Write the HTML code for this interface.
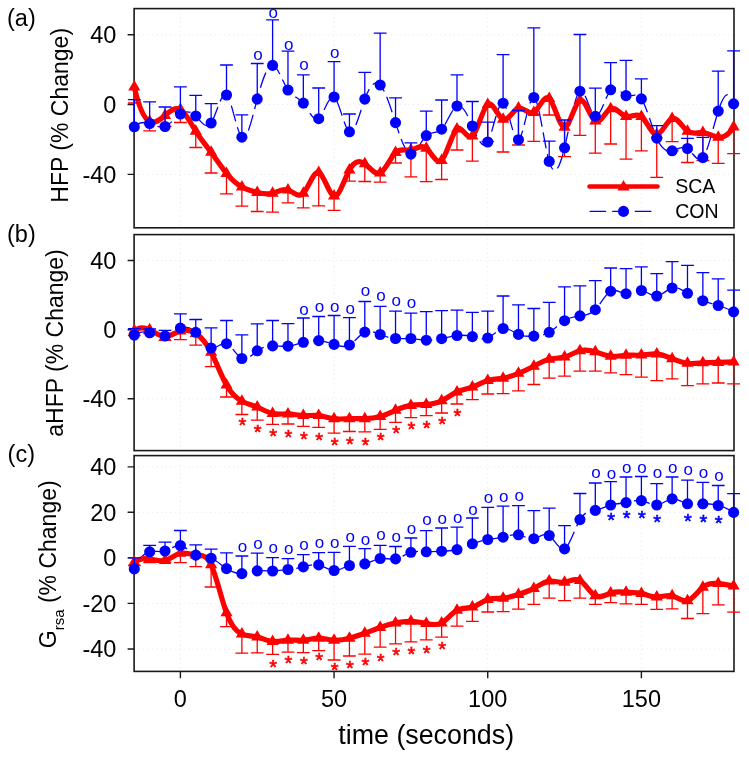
<!DOCTYPE html>
<html><head><meta charset="utf-8"><style>
html,body{margin:0;padding:0;background:#fff;}
svg{display:block;will-change:transform;}
text{font-family:"Liberation Sans",sans-serif;fill:#000;}
.tl{font-size:23.5px;}
.xl{font-size:26.8px;}
.yl{font-size:23px;}
.sub{font-size:15px;}
.pl{font-size:23.5px;}
.lg{font-size:19.5px;}
.o{font-size:17px;fill:#0000ff;text-anchor:middle;}
.st{font-size:20px;text-anchor:middle;}
.sr{fill:#ff0000;stroke:#ff0000;stroke-width:0.6px;}
.sb{fill:#0000ff;stroke:#0000ff;stroke-width:0.6px;}
</style></head><body>
<svg width="749" height="758" viewBox="0 0 749 758">
<rect width="749" height="758" fill="#fff"/>
<path d="M180.40 8.60V227.80M334.07 8.60V227.80M487.73 8.60V227.80M641.39 8.60V227.80M134.10 34.80H734.00M134.10 104.50H734.00M134.10 174.40H734.00" stroke="#e6e6e6" stroke-width="1" stroke-dasharray="1 3.5" fill="none"/>
<rect x="134.10" y="8.60" width="599.90" height="219.20" fill="none" stroke="#1a1a1a" stroke-width="1.6"/>
<path d="M127.60 34.80H134.10M127.60 104.50H134.10M127.60 174.40H134.10" stroke="#1a1a1a" stroke-width="1.4"/>
<g>
<path d="M134.30 126.80C139.42 121.70 144.54 121.81 149.67 123.50C154.79 125.19 159.91 128.45 165.03 126.50C170.16 124.55 175.28 117.38 180.40 114.00C185.52 110.62 190.64 111.01 195.77 116.00C200.89 120.99 206.01 130.56 211.13 123.00C216.26 115.44 221.38 90.76 226.50 95.00C231.62 99.24 236.74 132.41 241.87 137.20C246.99 141.99 252.11 118.40 257.23 99.10C262.35 79.80 267.48 64.78 272.60 65.40C277.72 66.02 282.84 82.29 287.97 90.00C293.09 97.71 298.21 96.86 303.33 103.10C308.45 109.34 313.58 122.66 318.70 118.70C323.82 114.74 328.94 93.51 334.07 97.00C339.19 100.49 344.31 128.69 349.43 131.80C354.55 134.91 359.68 112.92 364.80 99.10C369.92 85.28 375.04 79.62 380.16 85.00C385.29 90.38 390.41 106.81 395.53 122.60C400.65 138.39 405.78 153.56 410.90 154.10C416.02 154.64 421.14 140.57 426.26 135.60C431.39 130.63 436.51 134.76 441.63 129.20C446.75 123.64 451.87 108.39 457.00 106.00C462.12 103.61 467.24 114.09 472.36 126.00C477.49 137.91 482.61 151.27 487.73 142.00C492.85 132.73 497.97 100.85 503.10 103.20C508.22 105.55 513.34 142.13 518.46 139.70C523.59 137.27 528.71 95.83 533.83 97.50C538.95 99.17 544.07 143.96 549.20 161.40C554.32 178.84 559.44 168.93 564.56 147.80C569.68 126.67 574.81 94.31 579.93 91.20C585.05 88.09 590.17 114.24 595.30 116.20C600.42 118.16 605.54 95.94 610.66 89.80C615.78 83.66 620.91 93.61 626.03 95.60C631.15 97.59 636.27 91.61 641.39 98.90C646.52 106.19 651.64 126.75 656.76 138.20C661.88 149.65 667.01 151.98 672.13 150.80C677.25 149.62 682.37 144.95 687.49 148.50C692.62 152.05 697.74 163.84 702.86 157.60C707.98 151.36 713.11 127.09 718.23 111.10C723.35 95.11 728.47 87.41 733.59 103.80" stroke="#0000ff" stroke-width="1.3" fill="none" stroke-dasharray="16.16 5.9" stroke-dashoffset="19.16"/>
<path d="M134.30 87.00V103.00M127.90 103.00H140.70M149.67 121.50V130.90M143.27 130.90H156.07M165.03 115.50V126.50M158.63 126.50H171.43M180.40 109.50V122.50M174.00 122.50H186.80M195.77 131.20V147.50M189.37 147.50H202.17M211.13 152.30V173.00M204.73 173.00H217.53M226.50 173.40V193.90M220.10 193.90H232.90M241.87 187.10V206.10M235.47 206.10H248.27M257.23 192.50V211.50M250.83 211.50H263.63M272.60 193.30V212.10M266.20 212.10H279.00M287.97 189.90V202.90M281.57 202.90H294.37M303.33 193.30V207.80M296.93 207.80H309.73M318.70 172.50V205.80M312.30 205.80H325.10M334.07 196.00V210.40M327.67 210.40H340.47M349.43 169.90V181.20M343.03 181.20H355.83M364.80 163.80V181.50M358.40 181.50H371.20M380.16 173.00V182.10M373.76 182.10H386.56M395.53 152.60V163.00M389.13 163.00H401.93M410.90 150.00V176.90M404.50 176.90H417.30M426.26 148.20V181.70M419.86 181.70H432.66M441.63 160.40V179.50M435.23 179.50H448.03M457.00 129.10V150.00M450.60 150.00H463.40M472.36 136.10V161.20M465.96 161.20H478.76M487.73 104.50V141.50M481.33 141.50H494.13M503.10 119.30V152.00M496.70 152.00H509.50M518.46 108.10V145.00M512.06 145.00H524.86M533.83 112.40V141.40M527.43 141.40H540.23M549.20 98.50V115.00M542.80 115.00H555.60M564.56 127.20V156.70M558.16 156.70H570.96M579.93 100.30V135.30M573.53 135.30H586.33M595.30 121.10V153.20M588.90 153.20H601.70M610.66 108.70V144.00M604.26 144.00H617.06M626.03 116.50V159.10M619.63 159.10H632.43M641.39 116.50V150.90M635.00 150.90H647.79M656.76 134.50V177.40M650.36 177.40H663.16M672.13 118.50V141.60M665.73 141.60H678.53M687.49 131.20V162.50M681.09 162.50H693.89M702.86 132.50V160.50M696.46 160.50H709.26M718.23 137.30V163.30M711.83 163.30H724.63M733.59 126.90V153.60M727.19 153.60H739.99" stroke="#ff0000" stroke-width="1.3" fill="none"/>
<path d="M134.30 87.00C139.42 109.71 144.54 118.96 149.67 121.50C154.79 124.04 159.91 119.88 165.03 115.50C170.16 111.12 175.28 106.54 180.40 109.50C185.52 112.46 190.64 122.97 195.77 131.20C200.89 139.43 206.01 145.36 211.13 152.30C216.26 159.24 221.38 167.17 226.50 173.40C231.62 179.63 236.74 184.17 241.87 187.10C246.99 190.03 252.11 191.35 257.23 192.50C262.35 193.65 267.48 194.65 272.60 193.30C277.72 191.95 282.84 188.27 287.97 189.90C293.09 191.53 298.21 198.47 303.33 193.30C308.45 188.13 313.58 170.85 318.70 172.50C323.82 174.15 328.94 194.74 334.07 196.00C339.19 197.26 344.31 179.20 349.43 169.90C354.55 160.60 359.68 160.07 364.80 163.80C369.92 167.53 375.04 175.51 380.16 173.00C385.29 170.49 390.41 157.50 395.53 152.60C400.65 147.70 405.78 150.88 410.90 150.00C416.02 149.12 421.14 144.17 426.26 148.20C431.39 152.23 436.51 165.23 441.63 160.40C446.75 155.57 451.87 132.90 457.00 129.10C462.12 125.30 467.24 140.38 472.36 136.10C477.49 131.82 482.61 108.18 487.73 104.50C492.85 100.82 497.97 117.11 503.10 119.30C508.22 121.49 513.34 109.58 518.46 108.10C523.59 106.62 528.71 115.56 533.83 112.40C538.95 109.24 544.07 93.99 549.20 98.50C554.32 103.01 559.44 127.30 564.56 127.20C569.68 127.10 574.81 102.62 579.93 100.30C585.05 97.98 590.17 117.84 595.30 121.10C600.42 124.36 605.54 111.04 610.66 108.70C615.78 106.36 620.91 115.00 626.03 116.50C631.15 118.00 636.27 112.35 641.39 116.50C646.52 120.65 651.64 134.60 656.76 134.50C661.88 134.40 667.01 120.26 672.13 118.50C677.25 116.74 682.37 127.36 687.49 131.20C692.62 135.04 697.74 132.10 702.86 132.50C707.98 132.90 713.11 136.64 718.23 137.30C723.35 137.96 728.47 135.53 733.59 126.90" stroke="#ff0000" stroke-width="5.2" fill="none" stroke-linejoin="round" stroke-linecap="round"/>
<path d="M134.30 80.00L140.36 90.50L128.24 90.50ZM149.67 114.50L155.73 125.00L143.60 125.00ZM165.03 108.50L171.10 119.00L158.97 119.00ZM180.40 102.50L186.46 113.00L174.34 113.00ZM195.77 124.20L201.83 134.70L189.70 134.70ZM211.13 145.30L217.20 155.80L205.07 155.80ZM226.50 166.40L232.56 176.90L220.44 176.90ZM241.87 180.10L247.93 190.60L235.80 190.60ZM257.23 185.50L263.29 196.00L251.17 196.00ZM272.60 186.30L278.66 196.80L266.54 196.80ZM287.97 182.90L294.03 193.40L281.90 193.40ZM303.33 186.30L309.39 196.80L297.27 196.80ZM318.70 165.50L324.76 176.00L312.64 176.00ZM334.07 189.00L340.13 199.50L328.00 199.50ZM349.43 162.90L355.49 173.40L343.37 173.40ZM364.80 156.80L370.86 167.30L358.74 167.30ZM380.16 166.00L386.23 176.50L374.10 176.50ZM395.53 145.60L401.59 156.10L389.47 156.10ZM410.90 143.00L416.96 153.50L404.84 153.50ZM426.26 141.20L432.33 151.70L420.20 151.70ZM441.63 153.40L447.69 163.90L435.57 163.90ZM457.00 122.10L463.06 132.60L450.93 132.60ZM472.36 129.10L478.43 139.60L466.30 139.60ZM487.73 97.50L493.79 108.00L481.67 108.00ZM503.10 112.30L509.16 122.80L497.03 122.80ZM518.46 101.10L524.53 111.60L512.40 111.60ZM533.83 105.40L539.89 115.90L527.77 115.90ZM549.20 91.50L555.26 102.00L543.13 102.00ZM564.56 120.20L570.62 130.70L558.50 130.70ZM579.93 93.30L585.99 103.80L573.87 103.80ZM595.30 114.10L601.36 124.60L589.23 124.60ZM610.66 101.70L616.72 112.20L604.60 112.20ZM626.03 109.50L632.09 120.00L619.97 120.00ZM641.39 109.50L647.46 120.00L635.33 120.00ZM656.76 127.50L662.82 138.00L650.70 138.00ZM672.13 111.50L678.19 122.00L666.07 122.00ZM687.49 124.20L693.56 134.70L681.43 134.70ZM702.86 125.50L708.92 136.00L696.80 136.00ZM718.23 130.30L724.29 140.80L712.17 140.80ZM733.59 119.90L739.66 130.40L727.53 130.40Z" fill="#ff0000"/>
<path d="M134.30 126.80V99.70M127.90 99.70H140.70M149.67 123.50V101.90M143.27 101.90H156.07M165.03 126.50V107.00M158.63 107.00H171.43M180.40 114.00V86.80M174.00 86.80H186.80M195.77 116.00V95.40M189.37 95.40H202.17M211.13 123.00V103.60M204.73 103.60H217.53M226.50 95.00V65.00M220.10 65.00H232.90M241.87 137.20V114.90M235.47 114.90H248.27M257.23 99.10V63.50M250.83 63.50H263.63M272.60 65.40V19.80M266.20 19.80H279.00M287.97 90.00V51.20M281.57 51.20H294.37M303.33 103.10V74.80M296.93 74.80H309.73M318.70 118.70V88.00M312.30 88.00H325.10M334.07 97.00V61.60M327.67 61.60H340.47M349.43 131.80V114.00M343.03 114.00H355.83M364.80 99.10V72.30M358.40 72.30H371.20M380.16 85.00V33.10M373.76 33.10H386.56M395.53 122.60V97.80M389.13 97.80H401.93M410.90 154.10V142.90M404.50 142.90H417.30M426.26 135.60V111.10M419.86 111.10H432.66M441.63 129.20V100.00M435.23 100.00H448.03M457.00 106.00V74.90M450.60 74.90H463.40M472.36 126.00V101.50M465.96 101.50H478.76M487.73 142.00V122.10M481.33 122.10H494.13M503.10 103.20V54.60M496.70 54.60H509.50M518.46 139.70V110.50M512.06 110.50H524.86M533.83 97.50V27.90M527.43 27.90H540.23M549.20 161.40V141.10M542.80 141.10H555.60M564.56 147.80V120.00M558.16 120.00H570.96M579.93 91.20V34.50M573.53 34.50H586.33M595.30 116.20V88.20M588.90 88.20H601.70M610.66 89.80V62.70M604.26 62.70H617.06M626.03 95.60V60.40M619.63 60.40H632.43M641.39 98.90V78.90M635.00 78.90H647.79M656.76 138.20V125.60M650.36 125.60H663.16M672.13 150.80V150.80M665.73 150.80H678.53M687.49 148.50V138.30M681.09 138.30H693.89M702.86 157.60V137.40M696.46 137.40H709.26M718.23 111.10V71.20M711.83 71.20H724.63M733.59 103.80V50.90M727.19 50.90H739.99" stroke="#0000ff" stroke-width="1.3" fill="none"/>
<circle cx="134.30" cy="126.80" r="5.55" fill="#0000ff"/>
<circle cx="149.67" cy="123.50" r="5.55" fill="#0000ff"/>
<circle cx="165.03" cy="126.50" r="5.55" fill="#0000ff"/>
<circle cx="180.40" cy="114.00" r="5.55" fill="#0000ff"/>
<circle cx="195.77" cy="116.00" r="5.55" fill="#0000ff"/>
<circle cx="211.13" cy="123.00" r="5.55" fill="#0000ff"/>
<circle cx="226.50" cy="95.00" r="5.55" fill="#0000ff"/>
<circle cx="241.87" cy="137.20" r="5.55" fill="#0000ff"/>
<circle cx="257.23" cy="99.10" r="5.55" fill="#0000ff"/>
<circle cx="272.60" cy="65.40" r="5.55" fill="#0000ff"/>
<circle cx="287.97" cy="90.00" r="5.55" fill="#0000ff"/>
<circle cx="303.33" cy="103.10" r="5.55" fill="#0000ff"/>
<circle cx="318.70" cy="118.70" r="5.55" fill="#0000ff"/>
<circle cx="334.07" cy="97.00" r="5.55" fill="#0000ff"/>
<circle cx="349.43" cy="131.80" r="5.55" fill="#0000ff"/>
<circle cx="364.80" cy="99.10" r="5.55" fill="#0000ff"/>
<circle cx="380.16" cy="85.00" r="5.55" fill="#0000ff"/>
<circle cx="395.53" cy="122.60" r="5.55" fill="#0000ff"/>
<circle cx="410.90" cy="154.10" r="5.55" fill="#0000ff"/>
<circle cx="426.26" cy="135.60" r="5.55" fill="#0000ff"/>
<circle cx="441.63" cy="129.20" r="5.55" fill="#0000ff"/>
<circle cx="457.00" cy="106.00" r="5.55" fill="#0000ff"/>
<circle cx="472.36" cy="126.00" r="5.55" fill="#0000ff"/>
<circle cx="487.73" cy="142.00" r="5.55" fill="#0000ff"/>
<circle cx="503.10" cy="103.20" r="5.55" fill="#0000ff"/>
<circle cx="518.46" cy="139.70" r="5.55" fill="#0000ff"/>
<circle cx="533.83" cy="97.50" r="5.55" fill="#0000ff"/>
<circle cx="549.20" cy="161.40" r="5.55" fill="#0000ff"/>
<circle cx="564.56" cy="147.80" r="5.55" fill="#0000ff"/>
<circle cx="579.93" cy="91.20" r="5.55" fill="#0000ff"/>
<circle cx="595.30" cy="116.20" r="5.55" fill="#0000ff"/>
<circle cx="610.66" cy="89.80" r="5.55" fill="#0000ff"/>
<circle cx="626.03" cy="95.60" r="5.55" fill="#0000ff"/>
<circle cx="641.39" cy="98.90" r="5.55" fill="#0000ff"/>
<circle cx="656.76" cy="138.20" r="5.55" fill="#0000ff"/>
<circle cx="672.13" cy="150.80" r="5.55" fill="#0000ff"/>
<circle cx="687.49" cy="148.50" r="5.55" fill="#0000ff"/>
<circle cx="702.86" cy="157.60" r="5.55" fill="#0000ff"/>
<circle cx="718.23" cy="111.10" r="5.55" fill="#0000ff"/>
<circle cx="733.59" cy="103.80" r="5.55" fill="#0000ff"/>
</g>
<text x="257.93" y="60.19" class="o">o</text>
<text x="273.30" y="18.29" class="o">o</text>
<text x="288.67" y="50.29" class="o">o</text>
<text x="304.03" y="69.89" class="o">o</text>
<text x="334.77" y="57.69" class="o">o</text>
<text x="116.4" y="43.20" class="tl" text-anchor="end">40</text>
<text x="116.4" y="112.90" class="tl" text-anchor="end">0</text>
<text x="116.4" y="182.80" class="tl" text-anchor="end">-40</text>
<path d="M180.40 234.60V450.60M334.07 234.60V450.60M487.73 234.60V450.60M641.39 234.60V450.60M134.10 260.50H734.00M134.10 329.70H734.00M134.10 398.80H734.00" stroke="#e6e6e6" stroke-width="1" stroke-dasharray="1 3.5" fill="none"/>
<rect x="134.10" y="234.60" width="599.90" height="216.00" fill="none" stroke="#1a1a1a" stroke-width="1.6"/>
<path d="M127.60 260.50H134.10M127.60 329.70H134.10M127.60 398.80H134.10" stroke="#1a1a1a" stroke-width="1.4"/>
<g>
<path d="M134.30 335.10C139.42 331.18 144.54 331.33 149.67 332.80C154.79 334.27 159.91 337.05 165.03 336.00C170.16 334.95 175.28 330.06 180.40 328.10C185.52 326.14 190.64 327.11 195.77 332.30C200.89 337.49 206.01 346.89 211.13 348.00C216.26 349.11 221.38 341.91 226.50 343.70C231.62 345.49 236.74 356.25 241.87 358.50C246.99 360.75 252.11 354.48 257.23 350.80C262.35 347.12 267.48 346.02 272.60 345.90C277.72 345.78 282.84 346.63 287.97 346.10C293.09 345.57 298.21 343.65 303.33 342.30C308.45 340.95 313.58 340.17 318.70 340.60C323.82 341.03 328.94 342.68 334.07 344.40C339.19 346.12 344.31 347.90 349.43 345.00C354.55 342.10 359.68 334.53 364.80 332.10C369.92 329.67 375.04 332.40 380.16 334.50C385.29 336.60 390.41 338.09 395.53 338.50C400.65 338.91 405.78 338.24 410.90 338.50C416.02 338.76 421.14 339.94 426.26 340.20C431.39 340.46 436.51 339.80 441.63 338.70C446.75 337.60 451.87 336.08 457.00 335.50C462.12 334.92 467.24 335.30 472.36 336.60C477.49 337.90 482.61 340.12 487.73 338.00C492.85 335.88 497.97 329.42 503.10 328.50C508.22 327.58 513.34 332.18 518.46 334.40C523.59 336.62 528.71 336.44 533.83 336.10C538.95 335.76 544.07 335.26 549.20 332.30C554.32 329.34 559.44 323.90 564.56 320.70C569.68 317.50 574.81 316.52 579.93 315.90C585.05 315.28 590.17 315.03 595.30 309.70C600.42 304.37 605.54 293.96 610.66 291.20C615.78 288.44 620.91 293.33 626.03 293.70C631.15 294.07 636.27 289.91 641.39 290.50C646.52 291.09 651.64 296.44 656.76 296.00C661.88 295.56 667.01 289.32 672.13 288.00C677.25 286.68 682.37 290.27 687.49 293.30C692.62 296.33 697.74 298.81 702.86 300.70C707.98 302.59 713.11 303.91 718.23 305.50C723.35 307.09 728.47 308.97 733.59 311.80" stroke="#0000ff" stroke-width="1.3" fill="none" stroke-dasharray="16.16 5.9" stroke-dashoffset="19.16"/>
<path d="M134.30 330.80V335.50M127.90 335.50H140.70M149.67 329.80V333.50M143.27 333.50H156.07M165.03 336.50V340.30M158.63 340.30H171.43M180.40 331.00V339.60M174.00 339.60H186.80M195.77 333.50V345.20M189.37 345.20H202.17M211.13 352.30V366.60M204.73 366.60H217.53M226.50 385.00V397.00M220.10 397.00H232.90M241.87 401.20V414.50M235.47 414.50H248.27M257.23 407.10V420.20M250.83 420.20H263.63M272.60 413.50V424.40M266.20 424.40H279.00M287.97 413.90V424.00M281.57 424.00H294.37M303.33 415.60V426.30M296.93 426.30H309.73M318.70 415.60V427.30M312.30 427.30H325.10M334.07 418.70V433.10M327.67 433.10H340.47M349.43 418.70V431.50M343.03 431.50H355.83M364.80 418.70V431.80M358.40 431.80H371.20M380.16 416.60V429.30M373.76 429.30H386.56M395.53 410.30V422.30M389.13 422.30H401.93M410.90 405.40V417.70M404.50 417.70H417.30M426.26 404.40V415.60M419.86 415.60H432.66M441.63 400.80V413.00M435.23 413.00H448.03M457.00 391.90V404.00M450.60 404.00H463.40M472.36 387.10V399.70M465.96 399.70H478.76M487.73 380.50V394.00M481.33 394.00H494.13M503.10 378.20V393.60M496.70 393.60H509.50M518.46 373.30V390.90M512.06 390.90H524.86M533.83 366.20V384.50M527.43 384.50H540.23M549.20 359.20V378.20M542.80 378.20H555.60M564.56 357.10V376.10M558.16 376.10H570.96M579.93 350.80V371.20M573.53 371.20H586.33M595.30 351.80V371.20M588.90 371.20H601.70M610.66 356.20V372.90M604.26 372.90H617.06M626.03 355.30V374.60M619.63 374.60H632.43M641.39 355.10V377.10M635.00 377.10H647.79M656.76 353.90V380.70M650.36 380.70H663.16M672.13 358.70V378.80M665.73 378.80H678.53M687.49 363.30V385.60M681.09 385.60H693.89M702.86 362.80V383.90M696.46 383.90H709.26M718.23 362.40V383.00M711.83 383.00H724.63M733.59 361.90V383.90M727.19 383.90H739.99" stroke="#ff0000" stroke-width="1.3" fill="none"/>
<path d="M134.30 330.80C139.42 326.56 144.54 327.34 149.67 329.80C154.79 332.26 159.91 336.42 165.03 336.50C170.16 336.58 175.28 332.59 180.40 331.00C185.52 329.41 190.64 330.22 195.77 333.50C200.89 336.78 206.01 342.52 211.13 352.30C216.26 362.08 221.38 375.90 226.50 385.00C231.62 394.10 236.74 398.48 241.87 401.20C246.99 403.92 252.11 404.99 257.23 407.10C262.35 409.21 267.48 412.37 272.60 413.50C277.72 414.63 282.84 413.72 287.97 413.90C293.09 414.08 298.21 415.36 303.33 415.60C308.45 415.84 313.58 415.05 318.70 415.60C323.82 416.15 328.94 418.03 334.07 418.70C339.19 419.37 344.31 418.84 349.43 418.70C354.55 418.56 359.68 418.81 364.80 418.70C369.92 418.59 375.04 418.12 380.16 416.60C385.29 415.08 390.41 412.51 395.53 410.30C400.65 408.09 405.78 406.24 410.90 405.40C416.02 404.56 421.14 404.72 426.26 404.40C431.39 404.08 436.51 403.26 441.63 400.80C446.75 398.34 451.87 394.24 457.00 391.90C462.12 389.56 467.24 388.98 472.36 387.10C477.49 385.22 482.61 382.03 487.73 380.50C492.85 378.97 497.97 379.09 503.10 378.20C508.22 377.31 513.34 375.41 518.46 373.30C523.59 371.19 528.71 368.89 533.83 366.20C538.95 363.51 544.07 360.44 549.20 359.20C554.32 357.96 559.44 358.55 564.56 357.10C569.68 355.65 574.81 352.15 579.93 350.80C585.05 349.45 590.17 350.26 595.30 351.80C600.42 353.34 605.54 355.63 610.66 356.20C615.78 356.77 620.91 355.62 626.03 355.30C631.15 354.98 636.27 355.49 641.39 355.10C646.52 354.71 651.64 353.42 656.76 353.90C661.88 354.38 667.01 356.62 672.13 358.70C677.25 360.78 682.37 362.71 687.49 363.30C692.62 363.89 697.74 363.16 702.86 362.80C707.98 362.44 713.11 362.47 718.23 362.40C723.35 362.33 728.47 362.18 733.59 361.90" stroke="#ff0000" stroke-width="5.2" fill="none" stroke-linejoin="round" stroke-linecap="round"/>
<path d="M134.30 323.80L140.36 334.30L128.24 334.30ZM149.67 322.80L155.73 333.30L143.60 333.30ZM165.03 329.50L171.10 340.00L158.97 340.00ZM180.40 324.00L186.46 334.50L174.34 334.50ZM195.77 326.50L201.83 337.00L189.70 337.00ZM211.13 345.30L217.20 355.80L205.07 355.80ZM226.50 378.00L232.56 388.50L220.44 388.50ZM241.87 394.20L247.93 404.70L235.80 404.70ZM257.23 400.10L263.29 410.60L251.17 410.60ZM272.60 406.50L278.66 417.00L266.54 417.00ZM287.97 406.90L294.03 417.40L281.90 417.40ZM303.33 408.60L309.39 419.10L297.27 419.10ZM318.70 408.60L324.76 419.10L312.64 419.10ZM334.07 411.70L340.13 422.20L328.00 422.20ZM349.43 411.70L355.49 422.20L343.37 422.20ZM364.80 411.70L370.86 422.20L358.74 422.20ZM380.16 409.60L386.23 420.10L374.10 420.10ZM395.53 403.30L401.59 413.80L389.47 413.80ZM410.90 398.40L416.96 408.90L404.84 408.90ZM426.26 397.40L432.33 407.90L420.20 407.90ZM441.63 393.80L447.69 404.30L435.57 404.30ZM457.00 384.90L463.06 395.40L450.93 395.40ZM472.36 380.10L478.43 390.60L466.30 390.60ZM487.73 373.50L493.79 384.00L481.67 384.00ZM503.10 371.20L509.16 381.70L497.03 381.70ZM518.46 366.30L524.53 376.80L512.40 376.80ZM533.83 359.20L539.89 369.70L527.77 369.70ZM549.20 352.20L555.26 362.70L543.13 362.70ZM564.56 350.10L570.62 360.60L558.50 360.60ZM579.93 343.80L585.99 354.30L573.87 354.30ZM595.30 344.80L601.36 355.30L589.23 355.30ZM610.66 349.20L616.72 359.70L604.60 359.70ZM626.03 348.30L632.09 358.80L619.97 358.80ZM641.39 348.10L647.46 358.60L635.33 358.60ZM656.76 346.90L662.82 357.40L650.70 357.40ZM672.13 351.70L678.19 362.20L666.07 362.20ZM687.49 356.30L693.56 366.80L681.43 366.80ZM702.86 355.80L708.92 366.30L696.80 366.30ZM718.23 355.40L724.29 365.90L712.17 365.90ZM733.59 354.90L739.66 365.40L727.53 365.40Z" fill="#ff0000"/>
<path d="M134.30 335.10V328.60M127.90 328.60H140.70M149.67 332.80V329.00M143.27 329.00H156.07M165.03 336.00V330.40M158.63 330.40H171.43M180.40 328.10V313.80M174.00 313.80H186.80M195.77 332.30V319.50M189.37 319.50H202.17M211.13 348.00V327.90M204.73 327.90H217.53M226.50 343.70V320.50M220.10 320.50H232.90M241.87 358.50V334.90M235.47 334.90H248.27M257.23 350.80V323.80M250.83 323.80H263.63M272.60 345.90V320.50M266.20 320.50H279.00M287.97 346.10V323.70M281.57 323.70H294.37M303.33 342.30V318.00M296.93 318.00H309.73M318.70 340.60V316.50M312.30 316.50H325.10M334.07 344.40V315.50M327.67 315.50H340.47M349.43 345.00V317.60M343.03 317.60H355.83M364.80 332.10V301.50M358.40 301.50H371.20M380.16 334.50V306.40M373.76 306.40H386.56M395.53 338.50V311.20M389.13 311.20H401.93M410.90 338.50V313.10M404.50 313.10H417.30M426.26 340.20V311.70M419.86 311.70H432.66M441.63 338.70V310.60M435.23 310.60H448.03M457.00 335.50V310.20M450.60 310.20H463.40M472.36 336.60V312.30M465.96 312.30H478.76M487.73 338.00V311.20M481.33 311.20H494.13M503.10 328.50V296.00M496.70 296.00H509.50M518.46 334.40V304.90M512.06 304.90H524.86M533.83 336.10V308.50M527.43 308.50H540.23M549.20 332.30V302.30M542.80 302.30H555.60M564.56 320.70V286.90M558.16 286.90H570.96M579.93 315.90V285.90M573.53 285.90H586.33M595.30 309.70V280.60M588.90 280.60H601.70M610.66 291.20V268.00M604.26 268.00H617.06M626.03 293.70V268.60M619.63 268.60H632.43M641.39 290.50V266.90M635.00 266.90H647.79M656.76 296.00V273.60M650.36 273.60H663.16M672.13 288.00V261.60M665.73 261.60H678.53M687.49 293.30V265.40M681.09 265.40H693.89M702.86 300.70V272.60M696.46 272.60H709.26M718.23 305.50V278.90M711.83 278.90H724.63M733.59 311.80V290.10M727.19 290.10H739.99" stroke="#0000ff" stroke-width="1.3" fill="none"/>
<circle cx="134.30" cy="335.10" r="5.55" fill="#0000ff"/>
<circle cx="149.67" cy="332.80" r="5.55" fill="#0000ff"/>
<circle cx="165.03" cy="336.00" r="5.55" fill="#0000ff"/>
<circle cx="180.40" cy="328.10" r="5.55" fill="#0000ff"/>
<circle cx="195.77" cy="332.30" r="5.55" fill="#0000ff"/>
<circle cx="211.13" cy="348.00" r="5.55" fill="#0000ff"/>
<circle cx="226.50" cy="343.70" r="5.55" fill="#0000ff"/>
<circle cx="241.87" cy="358.50" r="5.55" fill="#0000ff"/>
<circle cx="257.23" cy="350.80" r="5.55" fill="#0000ff"/>
<circle cx="272.60" cy="345.90" r="5.55" fill="#0000ff"/>
<circle cx="287.97" cy="346.10" r="5.55" fill="#0000ff"/>
<circle cx="303.33" cy="342.30" r="5.55" fill="#0000ff"/>
<circle cx="318.70" cy="340.60" r="5.55" fill="#0000ff"/>
<circle cx="334.07" cy="344.40" r="5.55" fill="#0000ff"/>
<circle cx="349.43" cy="345.00" r="5.55" fill="#0000ff"/>
<circle cx="364.80" cy="332.10" r="5.55" fill="#0000ff"/>
<circle cx="380.16" cy="334.50" r="5.55" fill="#0000ff"/>
<circle cx="395.53" cy="338.50" r="5.55" fill="#0000ff"/>
<circle cx="410.90" cy="338.50" r="5.55" fill="#0000ff"/>
<circle cx="426.26" cy="340.20" r="5.55" fill="#0000ff"/>
<circle cx="441.63" cy="338.70" r="5.55" fill="#0000ff"/>
<circle cx="457.00" cy="335.50" r="5.55" fill="#0000ff"/>
<circle cx="472.36" cy="336.60" r="5.55" fill="#0000ff"/>
<circle cx="487.73" cy="338.00" r="5.55" fill="#0000ff"/>
<circle cx="503.10" cy="328.50" r="5.55" fill="#0000ff"/>
<circle cx="518.46" cy="334.40" r="5.55" fill="#0000ff"/>
<circle cx="533.83" cy="336.10" r="5.55" fill="#0000ff"/>
<circle cx="549.20" cy="332.30" r="5.55" fill="#0000ff"/>
<circle cx="564.56" cy="320.70" r="5.55" fill="#0000ff"/>
<circle cx="579.93" cy="315.90" r="5.55" fill="#0000ff"/>
<circle cx="595.30" cy="309.70" r="5.55" fill="#0000ff"/>
<circle cx="610.66" cy="291.20" r="5.55" fill="#0000ff"/>
<circle cx="626.03" cy="293.70" r="5.55" fill="#0000ff"/>
<circle cx="641.39" cy="290.50" r="5.55" fill="#0000ff"/>
<circle cx="656.76" cy="296.00" r="5.55" fill="#0000ff"/>
<circle cx="672.13" cy="288.00" r="5.55" fill="#0000ff"/>
<circle cx="687.49" cy="293.30" r="5.55" fill="#0000ff"/>
<circle cx="702.86" cy="300.70" r="5.55" fill="#0000ff"/>
<circle cx="718.23" cy="305.50" r="5.55" fill="#0000ff"/>
<circle cx="733.59" cy="311.80" r="5.55" fill="#0000ff"/>
</g>
<text x="304.03" y="314.69" class="o">o</text>
<text x="319.40" y="311.89" class="o">o</text>
<text x="334.77" y="311.89" class="o">o</text>
<text x="350.13" y="313.59" class="o">o</text>
<text x="365.50" y="296.09" class="o">o</text>
<text x="380.86" y="300.69" class="o">o</text>
<text x="396.23" y="305.59" class="o">o</text>
<text x="411.60" y="308.09" class="o">o</text>
<text x="242.37" y="431.95" class="st sr">*</text>
<text x="257.73" y="438.95" class="st sr">*</text>
<text x="273.10" y="442.85" class="st sr">*</text>
<text x="288.47" y="443.95" class="st sr">*</text>
<text x="303.83" y="446.05" class="st sr">*</text>
<text x="319.20" y="447.05" class="st sr">*</text>
<text x="334.57" y="452.45" class="st sr">*</text>
<text x="349.93" y="450.75" class="st sr">*</text>
<text x="365.30" y="451.75" class="st sr">*</text>
<text x="380.66" y="447.45" class="st sr">*</text>
<text x="396.03" y="440.25" class="st sr">*</text>
<text x="411.40" y="435.95" class="st sr">*</text>
<text x="426.76" y="435.45" class="st sr">*</text>
<text x="442.13" y="431.25" class="st sr">*</text>
<text x="457.50" y="423.05" class="st sr">*</text>
<text x="116.4" y="268.90" class="tl" text-anchor="end">40</text>
<text x="116.4" y="338.10" class="tl" text-anchor="end">0</text>
<text x="116.4" y="407.20" class="tl" text-anchor="end">-40</text>
<path d="M180.40 455.60V671.40M334.07 455.60V671.40M487.73 455.60V671.40M641.39 455.60V671.40M134.10 466.90H734.00M134.10 512.30H734.00M134.10 557.90H734.00M134.10 603.40H734.00M134.10 649.00H734.00" stroke="#e6e6e6" stroke-width="1" stroke-dasharray="1 3.5" fill="none"/>
<rect x="134.10" y="455.60" width="599.90" height="215.80" fill="none" stroke="#1a1a1a" stroke-width="1.6"/>
<path d="M127.60 466.90H134.10M127.60 512.30H134.10M127.60 557.90H134.10M127.60 603.40H134.10M127.60 649.00H134.10" stroke="#1a1a1a" stroke-width="1.4"/>
<g>
<path d="M134.30 568.90C139.42 557.63 144.54 553.10 149.67 551.80C154.79 550.50 159.91 552.44 165.03 551.00C170.16 549.56 175.28 544.74 180.40 545.50C185.52 546.26 190.64 552.59 195.77 555.10C200.89 557.61 206.01 556.30 211.13 558.20C216.26 560.10 221.38 565.19 226.50 568.60C231.62 572.01 236.74 573.72 241.87 573.60C246.99 573.48 252.11 571.51 257.23 570.90C262.35 570.29 267.48 571.02 272.60 571.00C277.72 570.98 282.84 570.20 287.97 569.50C293.09 568.80 298.21 568.17 303.33 566.90C308.45 565.63 313.58 563.74 318.70 564.90C323.82 566.06 328.94 570.29 334.07 570.50C339.19 570.71 344.31 566.90 349.43 565.50C354.55 564.10 359.68 565.13 364.80 563.90C369.92 562.67 375.04 559.20 380.16 558.50C385.29 557.80 390.41 559.88 395.53 558.90C400.65 557.92 405.78 553.88 410.90 552.30C416.02 550.72 421.14 551.61 426.26 551.80C431.39 551.99 436.51 551.48 441.63 551.20C446.75 550.92 451.87 550.88 457.00 549.60C462.12 548.32 467.24 545.79 472.36 543.80C477.49 541.81 482.61 540.36 487.73 539.50C492.85 538.64 497.97 538.39 503.10 537.20C508.22 536.01 513.34 533.90 518.46 534.80C523.59 535.70 528.71 539.61 533.83 538.70C538.95 537.79 544.07 532.06 549.20 535.50C554.32 538.94 559.44 551.57 564.56 548.90C569.68 546.23 574.81 528.28 579.93 519.60C585.05 510.92 590.17 511.53 595.30 510.40C600.42 509.27 605.54 506.42 610.66 505.00C615.78 503.58 620.91 503.59 626.03 502.60C631.15 501.61 636.27 499.62 641.39 500.60C646.52 501.58 651.64 505.54 656.76 505.00C661.88 504.46 667.01 499.42 672.13 498.90C677.25 498.38 682.37 502.38 687.49 503.80C692.62 505.22 697.74 504.07 702.86 503.80C707.98 503.53 713.11 504.14 718.23 505.50C723.35 506.86 728.47 508.96 733.59 512.40" stroke="#0000ff" stroke-width="1.3" fill="none" stroke-dasharray="16.16 5.9" stroke-dashoffset="19.16"/>
<path d="M134.30 562.20V565.50M127.90 565.50H140.70M149.67 558.90V562.50M143.27 562.50H156.07M165.03 560.40V562.10M158.63 562.10H171.43M180.40 553.30V562.60M174.00 562.60H186.80M195.77 554.90V566.70M189.37 566.70H202.17M211.13 564.80V587.00M204.73 587.00H217.53M226.50 612.80V626.70M220.10 626.70H232.90M241.87 634.10V653.10M235.47 653.10H248.27M257.23 637.00V652.90M250.83 652.90H263.63M272.60 641.60V654.30M266.20 654.30H279.00M287.97 640.20V652.10M281.57 652.10H294.37M303.33 640.20V652.70M296.93 652.70H309.73M318.70 638.20V650.70M312.30 650.70H325.10M334.07 640.20V660.00M327.67 660.00H340.47M349.43 638.20V656.00M343.03 656.00H355.83M364.80 633.30V654.10M358.40 654.10H371.20M380.16 627.50V647.20M373.76 647.20H386.56M395.53 622.90V643.80M389.13 643.80H401.93M410.90 621.30V641.90M404.50 641.90H417.30M426.26 623.50V639.80M419.86 639.80H432.66M441.63 622.90V637.20M435.23 637.20H448.03M457.00 610.30V626.10M450.60 626.10H463.40M472.36 607.10V621.30M465.96 621.30H478.76M487.73 599.50V612.00M481.33 612.00H494.13M503.10 598.20V611.60M496.70 611.60H509.50M518.46 594.50V609.20M512.06 609.20H524.86M533.83 588.40V604.30M527.43 604.30H540.23M549.20 581.10V598.20M542.80 598.20H555.60M564.56 582.30V600.60M558.16 600.60H570.96M579.93 580.40V598.20M573.53 598.20H586.33M595.30 595.70V604.30M588.90 604.30H601.70M610.66 593.00V602.70M604.26 602.70H617.06M626.03 592.20V603.90M619.63 603.90H632.43M641.39 593.40V604.40M635.00 604.40H647.79M656.76 597.10V609.30M650.36 609.30H663.16M672.13 595.80V608.80M665.73 608.80H678.53M687.49 600.70V618.50M681.09 618.50H693.89M702.86 587.30V613.70M696.46 613.70H709.26M718.23 583.60V604.90M711.83 604.90H724.63M733.59 586.10V612.20M727.19 612.20H739.99" stroke="#ff0000" stroke-width="1.3" fill="none"/>
<path d="M134.30 562.20C139.42 558.44 144.54 558.08 149.67 558.90C154.79 559.72 159.91 561.72 165.03 560.40C170.16 559.08 175.28 554.46 180.40 553.30C185.52 552.14 190.64 554.45 195.77 554.90C200.89 555.35 206.01 553.95 211.13 564.80C216.26 575.65 221.38 598.75 226.50 612.80C231.62 626.85 236.74 631.85 241.87 634.10C246.99 636.35 252.11 635.84 257.23 637.00C262.35 638.16 267.48 640.99 272.60 641.60C277.72 642.21 282.84 640.60 287.97 640.20C293.09 639.80 298.21 640.60 303.33 640.20C308.45 639.80 313.58 638.18 318.70 638.20C323.82 638.22 328.94 639.87 334.07 640.20C339.19 640.53 344.31 639.54 349.43 638.20C354.55 636.86 359.68 635.18 364.80 633.30C369.92 631.42 375.04 629.35 380.16 627.50C385.29 625.65 390.41 624.03 395.53 622.90C400.65 621.77 405.78 621.14 410.90 621.30C416.02 621.46 421.14 622.43 426.26 623.50C431.39 624.57 436.51 625.76 441.63 622.90C446.75 620.04 451.87 613.15 457.00 610.30C462.12 607.45 467.24 608.65 472.36 607.10C477.49 605.55 482.61 601.24 487.73 599.50C492.85 597.76 497.97 598.60 503.10 598.20C508.22 597.80 513.34 596.16 518.46 594.50C523.59 592.84 528.71 591.17 533.83 588.40C538.95 585.63 544.07 581.75 549.20 581.10C554.32 580.45 559.44 583.02 564.56 582.30C569.68 581.58 574.81 577.59 579.93 580.40C585.05 583.21 590.17 592.84 595.30 595.70C600.42 598.56 605.54 594.64 610.66 593.00C615.78 591.36 620.91 591.98 626.03 592.20C631.15 592.42 636.27 592.23 641.39 593.40C646.52 594.57 651.64 597.11 656.76 597.10C661.88 597.09 667.01 594.54 672.13 595.80C677.25 597.06 682.37 602.13 687.49 600.70C692.62 599.27 697.74 591.33 702.86 587.30C707.98 583.27 713.11 583.15 718.23 583.60C723.35 584.05 728.47 585.08 733.59 586.10" stroke="#ff0000" stroke-width="5.2" fill="none" stroke-linejoin="round" stroke-linecap="round"/>
<path d="M134.30 555.20L140.36 565.70L128.24 565.70ZM149.67 551.90L155.73 562.40L143.60 562.40ZM165.03 553.40L171.10 563.90L158.97 563.90ZM180.40 546.30L186.46 556.80L174.34 556.80ZM195.77 547.90L201.83 558.40L189.70 558.40ZM211.13 557.80L217.20 568.30L205.07 568.30ZM226.50 605.80L232.56 616.30L220.44 616.30ZM241.87 627.10L247.93 637.60L235.80 637.60ZM257.23 630.00L263.29 640.50L251.17 640.50ZM272.60 634.60L278.66 645.10L266.54 645.10ZM287.97 633.20L294.03 643.70L281.90 643.70ZM303.33 633.20L309.39 643.70L297.27 643.70ZM318.70 631.20L324.76 641.70L312.64 641.70ZM334.07 633.20L340.13 643.70L328.00 643.70ZM349.43 631.20L355.49 641.70L343.37 641.70ZM364.80 626.30L370.86 636.80L358.74 636.80ZM380.16 620.50L386.23 631.00L374.10 631.00ZM395.53 615.90L401.59 626.40L389.47 626.40ZM410.90 614.30L416.96 624.80L404.84 624.80ZM426.26 616.50L432.33 627.00L420.20 627.00ZM441.63 615.90L447.69 626.40L435.57 626.40ZM457.00 603.30L463.06 613.80L450.93 613.80ZM472.36 600.10L478.43 610.60L466.30 610.60ZM487.73 592.50L493.79 603.00L481.67 603.00ZM503.10 591.20L509.16 601.70L497.03 601.70ZM518.46 587.50L524.53 598.00L512.40 598.00ZM533.83 581.40L539.89 591.90L527.77 591.90ZM549.20 574.10L555.26 584.60L543.13 584.60ZM564.56 575.30L570.62 585.80L558.50 585.80ZM579.93 573.40L585.99 583.90L573.87 583.90ZM595.30 588.70L601.36 599.20L589.23 599.20ZM610.66 586.00L616.72 596.50L604.60 596.50ZM626.03 585.20L632.09 595.70L619.97 595.70ZM641.39 586.40L647.46 596.90L635.33 596.90ZM656.76 590.10L662.82 600.60L650.70 600.60ZM672.13 588.80L678.19 599.30L666.07 599.30ZM687.49 593.70L693.56 604.20L681.43 604.20ZM702.86 580.30L708.92 590.80L696.80 590.80ZM718.23 576.60L724.29 587.10L712.17 587.10ZM733.59 579.10L739.66 589.60L727.53 589.60Z" fill="#ff0000"/>
<path d="M134.30 568.90V557.90M127.90 557.90H140.70M149.67 551.80V545.30M143.27 545.30H156.07M165.03 551.00V542.20M158.63 542.20H171.43M180.40 545.50V530.50M174.00 530.50H186.80M195.77 555.10V544.90M189.37 544.90H202.17M211.13 558.20V549.20M204.73 549.20H217.53M226.50 568.60V552.90M220.10 552.90H232.90M241.87 573.60V556.00M235.47 556.00H248.27M257.23 570.90V553.20M250.83 553.20H263.63M272.60 571.00V557.60M266.20 557.60H279.00M287.97 569.50V558.60M281.57 558.60H294.37M303.33 566.90V554.60M296.93 554.60H309.73M318.70 564.90V552.60M312.30 552.60H325.10M334.07 570.50V552.30M327.67 552.30H340.47M349.43 565.50V546.30M343.03 546.30H355.83M364.80 563.90V548.70M358.40 548.70H371.20M380.16 558.50V545.30M373.76 545.30H386.56M395.53 558.90V546.50M389.13 546.50H401.93M410.90 552.30V538.00M404.50 538.00H417.30M426.26 551.80V530.70M419.86 530.70H432.66M441.63 551.20V528.00M435.23 528.00H448.03M457.00 549.60V527.20M450.60 527.20H463.40M472.36 543.80V518.00M465.96 518.00H478.76M487.73 539.50V507.40M481.33 507.40H494.13M503.10 537.20V506.20M496.70 506.20H509.50M518.46 534.80V505.70M512.06 505.70H524.86M533.83 538.70V510.60M527.43 510.60H540.23M549.20 535.50V508.20M542.80 508.20H555.60M564.56 548.90V525.70M558.16 525.70H570.96M579.93 519.60V493.50M573.53 493.50H586.33M595.30 510.40V483.00M588.90 483.00H601.70M610.66 505.00V481.60M604.26 481.60H617.06M626.03 502.60V477.00M619.63 477.00H632.43M641.39 500.60V476.50M635.00 476.50H647.79M656.76 505.00V483.60M650.36 483.60H663.16M672.13 498.90V477.00M665.73 477.00H678.53M687.49 503.80V480.10M681.09 480.10H693.89M702.86 503.80V482.30M696.46 482.30H709.26M718.23 505.50V485.50M711.83 485.50H724.63M733.59 512.40V493.60M727.19 493.60H739.99" stroke="#0000ff" stroke-width="1.3" fill="none"/>
<circle cx="134.30" cy="568.90" r="5.55" fill="#0000ff"/>
<circle cx="149.67" cy="551.80" r="5.55" fill="#0000ff"/>
<circle cx="165.03" cy="551.00" r="5.55" fill="#0000ff"/>
<circle cx="180.40" cy="545.50" r="5.55" fill="#0000ff"/>
<circle cx="195.77" cy="555.10" r="5.55" fill="#0000ff"/>
<circle cx="211.13" cy="558.20" r="5.55" fill="#0000ff"/>
<circle cx="226.50" cy="568.60" r="5.55" fill="#0000ff"/>
<circle cx="241.87" cy="573.60" r="5.55" fill="#0000ff"/>
<circle cx="257.23" cy="570.90" r="5.55" fill="#0000ff"/>
<circle cx="272.60" cy="571.00" r="5.55" fill="#0000ff"/>
<circle cx="287.97" cy="569.50" r="5.55" fill="#0000ff"/>
<circle cx="303.33" cy="566.90" r="5.55" fill="#0000ff"/>
<circle cx="318.70" cy="564.90" r="5.55" fill="#0000ff"/>
<circle cx="334.07" cy="570.50" r="5.55" fill="#0000ff"/>
<circle cx="349.43" cy="565.50" r="5.55" fill="#0000ff"/>
<circle cx="364.80" cy="563.90" r="5.55" fill="#0000ff"/>
<circle cx="380.16" cy="558.50" r="5.55" fill="#0000ff"/>
<circle cx="395.53" cy="558.90" r="5.55" fill="#0000ff"/>
<circle cx="410.90" cy="552.30" r="5.55" fill="#0000ff"/>
<circle cx="426.26" cy="551.80" r="5.55" fill="#0000ff"/>
<circle cx="441.63" cy="551.20" r="5.55" fill="#0000ff"/>
<circle cx="457.00" cy="549.60" r="5.55" fill="#0000ff"/>
<circle cx="472.36" cy="543.80" r="5.55" fill="#0000ff"/>
<circle cx="487.73" cy="539.50" r="5.55" fill="#0000ff"/>
<circle cx="503.10" cy="537.20" r="5.55" fill="#0000ff"/>
<circle cx="518.46" cy="534.80" r="5.55" fill="#0000ff"/>
<circle cx="533.83" cy="538.70" r="5.55" fill="#0000ff"/>
<circle cx="549.20" cy="535.50" r="5.55" fill="#0000ff"/>
<circle cx="564.56" cy="548.90" r="5.55" fill="#0000ff"/>
<circle cx="579.93" cy="519.60" r="5.55" fill="#0000ff"/>
<circle cx="595.30" cy="510.40" r="5.55" fill="#0000ff"/>
<circle cx="610.66" cy="505.00" r="5.55" fill="#0000ff"/>
<circle cx="626.03" cy="502.60" r="5.55" fill="#0000ff"/>
<circle cx="641.39" cy="500.60" r="5.55" fill="#0000ff"/>
<circle cx="656.76" cy="505.00" r="5.55" fill="#0000ff"/>
<circle cx="672.13" cy="498.90" r="5.55" fill="#0000ff"/>
<circle cx="687.49" cy="503.80" r="5.55" fill="#0000ff"/>
<circle cx="702.86" cy="503.80" r="5.55" fill="#0000ff"/>
<circle cx="718.23" cy="505.50" r="5.55" fill="#0000ff"/>
<circle cx="733.59" cy="512.40" r="5.55" fill="#0000ff"/>
</g>
<text x="242.57" y="552.19" class="o">o</text>
<text x="257.93" y="549.29" class="o">o</text>
<text x="273.30" y="553.19" class="o">o</text>
<text x="288.67" y="554.19" class="o">o</text>
<text x="304.03" y="550.19" class="o">o</text>
<text x="319.40" y="548.19" class="o">o</text>
<text x="334.77" y="548.19" class="o">o</text>
<text x="350.13" y="542.29" class="o">o</text>
<text x="365.50" y="544.69" class="o">o</text>
<text x="380.86" y="540.39" class="o">o</text>
<text x="396.23" y="541.69" class="o">o</text>
<text x="411.60" y="534.09" class="o">o</text>
<text x="426.96" y="525.39" class="o">o</text>
<text x="442.33" y="524.09" class="o">o</text>
<text x="457.70" y="523.29" class="o">o</text>
<text x="473.06" y="514.59" class="o">o</text>
<text x="488.43" y="503.19" class="o">o</text>
<text x="503.80" y="502.19" class="o">o</text>
<text x="519.16" y="500.99" class="o">o</text>
<text x="596.00" y="478.49" class="o">o</text>
<text x="611.36" y="479.49" class="o">o</text>
<text x="626.73" y="472.89" class="o">o</text>
<text x="642.10" y="472.89" class="o">o</text>
<text x="657.46" y="478.49" class="o">o</text>
<text x="672.83" y="472.89" class="o">o</text>
<text x="688.19" y="475.39" class="o">o</text>
<text x="703.56" y="477.79" class="o">o</text>
<text x="718.93" y="480.99" class="o">o</text>
<text x="273.10" y="673.75" class="st sr">*</text>
<text x="288.47" y="669.75" class="st sr">*</text>
<text x="303.83" y="671.15" class="st sr">*</text>
<text x="319.20" y="666.75" class="st sr">*</text>
<text x="334.57" y="677.05" class="st sr">*</text>
<text x="349.93" y="674.65" class="st sr">*</text>
<text x="365.30" y="672.15" class="st sr">*</text>
<text x="380.66" y="667.55" class="st sr">*</text>
<text x="396.03" y="662.25" class="st sr">*</text>
<text x="411.40" y="660.85" class="st sr">*</text>
<text x="426.76" y="659.55" class="st sr">*</text>
<text x="442.13" y="655.65" class="st sr">*</text>
<text x="611.16" y="527.45" class="st sb">*</text>
<text x="626.53" y="525.05" class="st sb">*</text>
<text x="641.89" y="525.05" class="st sb">*</text>
<text x="657.26" y="529.25" class="st sb">*</text>
<text x="687.99" y="527.95" class="st sb">*</text>
<text x="703.36" y="529.25" class="st sb">*</text>
<text x="718.73" y="529.95" class="st sb">*</text>
<text x="116.4" y="475.30" class="tl" text-anchor="end">40</text>
<text x="116.4" y="520.70" class="tl" text-anchor="end">20</text>
<text x="116.4" y="566.30" class="tl" text-anchor="end">0</text>
<text x="116.4" y="611.80" class="tl" text-anchor="end">-20</text>
<text x="116.4" y="657.40" class="tl" text-anchor="end">-40</text>
<path d="M180.40 671.4V678.2M334.07 671.4V678.2M487.73 671.4V678.2M641.39 671.4V678.2" stroke="#1a1a1a" stroke-width="1.4"/>
<text x="180.40" y="706.8" class="tl" text-anchor="middle">0</text>
<text x="334.07" y="706.8" class="tl" text-anchor="middle">50</text>
<text x="487.73" y="706.8" class="tl" text-anchor="middle">100</text>
<text x="641.39" y="706.8" class="tl" text-anchor="middle">150</text>
<text x="426.2" y="743.8" class="xl" text-anchor="middle">time (seconds)</text>
<text x="7.0" y="25.5" class="pl">(a)</text>
<text x="7.0" y="241.6" class="pl">(b)</text>
<text x="7.6" y="461.6" class="pl">(c)</text>
<text transform="translate(67.7 115.3) rotate(-90)" class="yl" text-anchor="middle">HFP (% Change)</text>
<text transform="translate(62.7 343.0) rotate(-90)" class="yl" text-anchor="middle">aHFP (% Change)</text>
<text transform="translate(55.7 648.2) rotate(-90)" class="yl">G<tspan class="sub" dy="7.9">rsa</tspan><tspan dy="-7.9"> (% Change)</tspan></text>
<line x1="589.5" y1="186.6" x2="657.5" y2="186.6" stroke="#ff0000" stroke-width="4.5" stroke-linecap="round"/>
<path d="M623.50 179.90L629.56 190.40L617.44 190.40Z" fill="#ff0000"/>
<line x1="589.6" y1="211.4" x2="652.0" y2="211.4" stroke="#0000ff" stroke-width="1.3" stroke-dasharray="16.6 6.0"/>
<circle cx="623.5" cy="211.4" r="5.55" fill="#0000ff"/>
<text x="675.2" y="193.4" class="lg">SCA</text>
<text x="675.2" y="218.1" class="lg">CON</text>
</svg>
</body></html>
